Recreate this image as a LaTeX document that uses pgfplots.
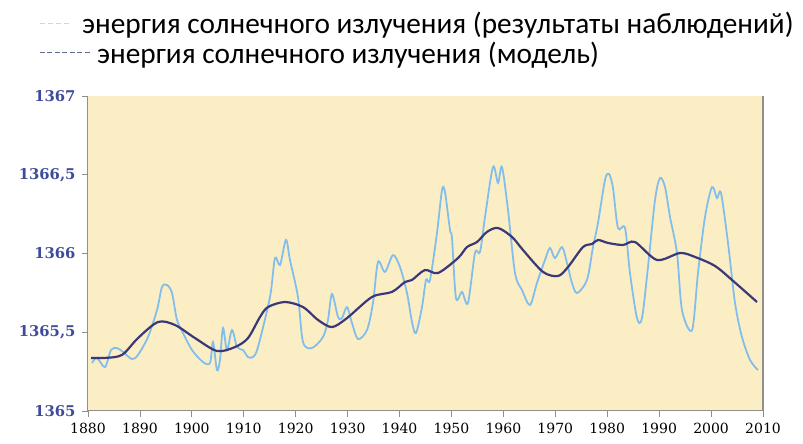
\documentclass[border=0pt]{standalone}
\usepackage{fontspec}
\setmainfont{Carlito}
\newfontfamily\tickfont{DejaVu Serif}
\usepackage{pgfplots}
\pgfplotsset{compat=1.18}
\definecolor{bgc}{HTML}{FCEEC4}
\definecolor{obs}{HTML}{82BEEC}
\definecolor{mdl}{HTML}{3A3878}
\definecolor{ylab}{HTML}{3E4B9B}
\definecolor{axc}{HTML}{8F8F8F}
\definecolor{leg1}{HTML}{C9D6E4}
\definecolor{leg2}{HTML}{5E6C8C}
\begin{document}
\begin{tikzpicture}[x=1pt,y=1pt]
\path[use as bounding box] (-88,-33) rectangle (715,411);
\begin{axis}[at={(0,0)}, anchor=south west, scale only axis,
  width=675pt, height=315pt,
  xmin=1880, xmax=2010, ymin=1365, ymax=1367,
  axis x line=bottom, axis y line=left,
  axis line style={-, draw=axc, line width=1pt},
  xtick={1880,1890,...,2010}, ytick={1365,1365.5,1366,1366.5,1367},
  tick style={draw=axc, line width=0.8pt}, tick align=outside, major tick length=6pt,
  axis background/.style={fill=bgc},
  /pgf/number format/use comma, /pgf/number format/1000 sep={},
  /pgf/number format/assume math mode=true,
  x tick label style={font=\tickfont\fontsize{14}{15}\selectfont, text=black, yshift=-3pt},
  y tick label style={font=\tickfont\bfseries\fontsize{14.8}{16}\selectfont, text=ylab, xshift=-3pt},
  clip=false,
]
\addplot[obs, line width=1.8pt, smooth] coordinates {
(1880.77,1365.305) (1881.73,1365.337) (1883.27,1365.279) (1884.43,1365.387) (1885.59,1365.400)
(1886.74,1365.375) (1888.47,1365.330) (1889.63,1365.356) (1891.56,1365.470) (1893.29,1365.641)
(1894.25,1365.787) (1895.22,1365.800) (1896.18,1365.749) (1897.14,1365.578) (1898.30,1365.495)
(1900.03,1365.387) (1902.15,1365.311) (1903.50,1365.305) (1904.07,1365.438) (1904.84,1365.260)
(1905.42,1365.324) (1906.00,1365.527) (1906.77,1365.387) (1907.73,1365.514) (1908.70,1365.406)
(1909.85,1365.387) (1910.81,1365.343) (1911.78,1365.343) (1912.74,1365.406) (1915.05,1365.724)
(1916.01,1365.971) (1916.98,1365.927) (1918.13,1366.086) (1918.90,1365.959) (1920.44,1365.724)
(1921.41,1365.438) (1923.14,1365.400) (1925.26,1365.470) (1926.22,1365.578) (1926.99,1365.743)
(1928.15,1365.597) (1928.92,1365.590) (1929.88,1365.660) (1930.84,1365.559) (1932.00,1365.457)
(1933.73,1365.514) (1934.89,1365.686) (1935.85,1365.946) (1937.20,1365.883) (1938.74,1365.990)
(1940.09,1365.914) (1941.44,1365.749) (1942.40,1365.565) (1943.17,1365.495) (1944.33,1365.660)
(1945.10,1365.832) (1945.87,1365.832) (1947.21,1366.130) (1948.18,1366.403) (1948.75,1366.390)
(1949.72,1366.149) (1950.10,1366.098) (1950.87,1365.717) (1952.03,1365.756) (1953.18,1365.686)
(1954.53,1366.003) (1955.50,1366.010) (1956.46,1366.232) (1958.00,1366.549) (1958.96,1366.448)
(1959.73,1366.549) (1960.89,1366.276) (1962.24,1365.876) (1963.58,1365.768) (1965.12,1365.673)
(1966.47,1365.813) (1968.01,1365.959) (1968.97,1366.035) (1969.94,1365.971) (1971.29,1366.041)
(1972.25,1365.940) (1973.21,1365.813) (1974.18,1365.749) (1976.10,1365.832) (1977.26,1366.041)
(1978.22,1366.194) (1979.57,1366.467) (1980.34,1366.505) (1981.11,1366.416) (1982.07,1366.162)
(1983.42,1366.162) (1984.38,1365.876) (1985.73,1365.590) (1986.69,1365.590) (1987.85,1365.914)
(1989.20,1366.340) (1990.16,1366.479) (1991.13,1366.422) (1992.09,1366.232) (1993.44,1366.003)
(1994.40,1365.641) (1996.33,1365.514) (1997.48,1365.876) (1998.83,1366.232) (2000.18,1366.422)
(2001.14,1366.352) (2001.91,1366.384) (2003.26,1366.067) (2004.61,1365.686) (2005.95,1365.470)
(2007.50,1365.324) (2009.03,1365.260)
};
\addplot[mdl, line width=2.2pt, smooth] coordinates {
(1880.58,1365.337) (1883.27,1365.337) (1886.55,1365.356) (1889.63,1365.463) (1893.48,1365.565)
(1896.76,1365.546) (1900.61,1365.463) (1904.84,1365.381) (1908.31,1365.406) (1910.81,1365.463)
(1913.13,1365.597) (1914.67,1365.660) (1917.94,1365.692) (1921.41,1365.660) (1924.30,1365.578)
(1926.99,1365.533) (1929.88,1365.590) (1934.70,1365.724) (1938.55,1365.756) (1941.05,1365.819)
(1942.40,1365.832) (1944.90,1365.895) (1947.41,1365.876) (1951.26,1365.971) (1952.99,1366.041)
(1954.92,1366.073) (1956.84,1366.137) (1958.96,1366.162) (1961.66,1366.105) (1963.78,1366.022)
(1967.63,1365.883) (1970.52,1365.857) (1972.44,1365.914) (1975.33,1366.041) (1977.07,1366.060)
(1978.22,1366.086) (1980.15,1366.067) (1983.03,1366.054) (1985.35,1366.073) (1989.58,1365.959)
(1994.01,1366.003) (1996.90,1365.978) (2000.75,1365.921) (2004.03,1365.832) (2008.84,1365.692)
};
\draw[axc, line width=1.2pt] (rel axis cs:1,0) -- (rel axis cs:1,1);
\end{axis}
\draw[leg1, line width=1pt, dash pattern=on 5pt off 3pt] (-48,387) -- (-16,387);
\node[anchor=base west, inner sep=0pt, font=\fontsize{29.3}{32}\selectfont] at (-6,377.5) {энергия солнечного излучения (результаты наблюдений)};
\draw[leg2, line width=1pt, dash pattern=on 5pt off 2.5pt] (-48,358) -- (2,358);
\node[anchor=base west, inner sep=0pt, font=\fontsize{29.3}{32}\selectfont] at (9,347.5) {энергия солнечного излучения (модель)};
\end{tikzpicture}
\end{document}
